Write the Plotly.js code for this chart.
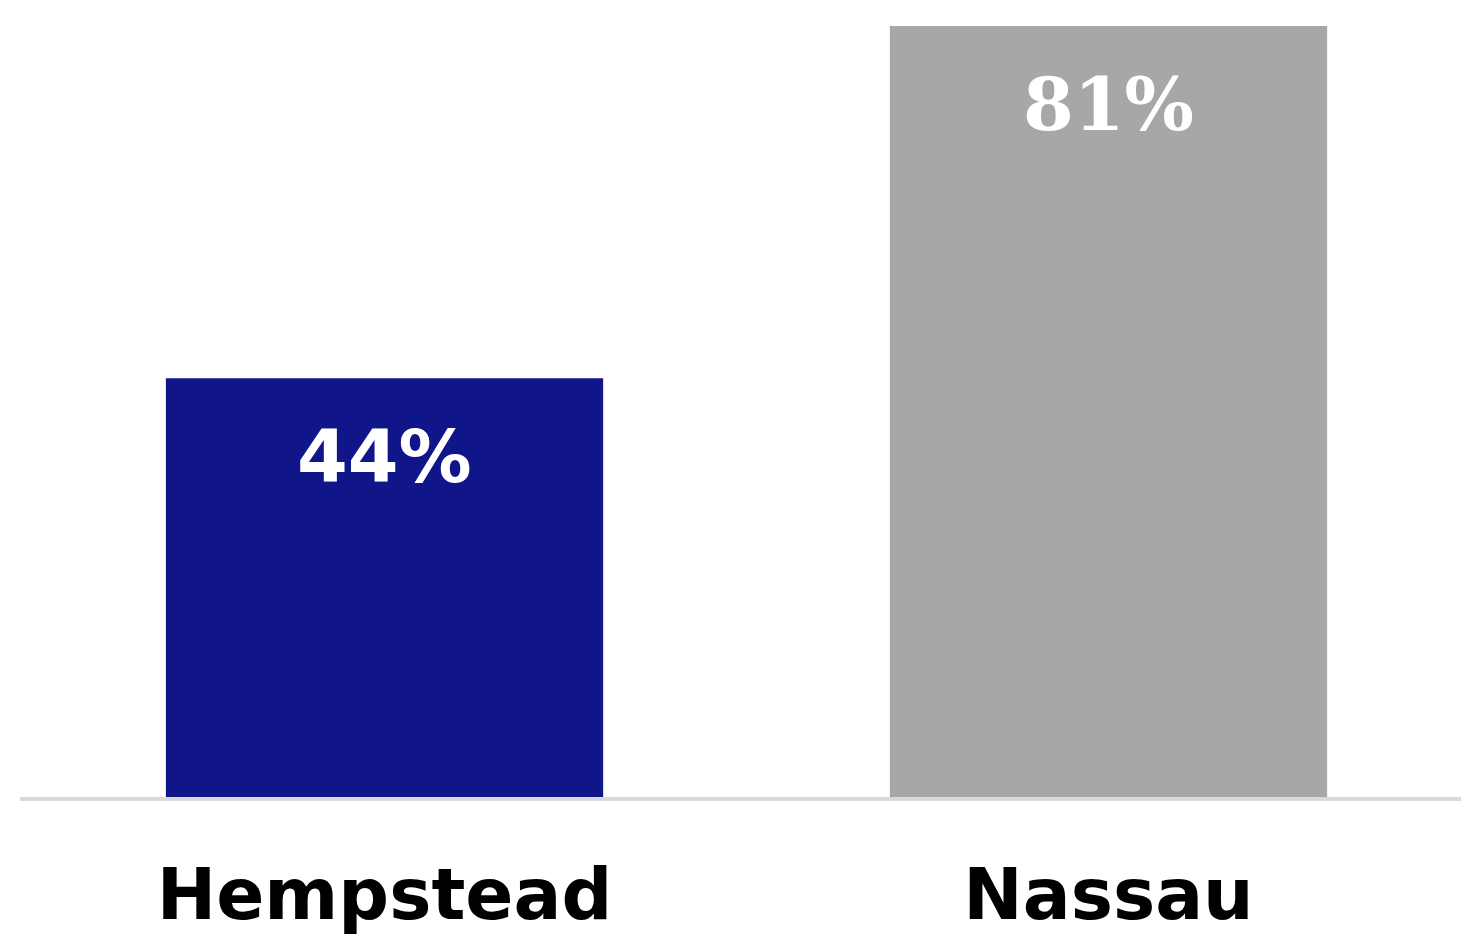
<!DOCTYPE html>
<html>
<head>
<meta charset="utf-8">
<script src="https://cdn.plot.ly/plotly-3.0.1.min.js"></script>
<style>html,body{margin:0;padding:0;background:#fff;}#chart{width:1461px;height:938px;}</style>
</head>
<body>
<div id="chart"></div>
<script>
const categories = ["Hempstead", "Nassau"];
const values = [44, 81];
const valueLabels = ["44%", "81%"];

const barColors = ["#10168A", "#A7A7A7"];
const labelFamilies = ["DejaVu Sans", "DejaVu Serif"];

const trace = {
  type: "bar",
  x: categories,
  y: values,
  width: 0.604,
  marker: {color: barColors, line: {width: 0}},
  hoverinfo: "skip"
};

const annotations = categories.map((c, i) => ({
  x: c, y: values[i], xref: "x", yref: "y",
  text: valueLabels[i],
  showarrow: false,
  yanchor: "middle", xanchor: "center",
  yshift: -78,
  font: {family: labelFamilies[i], size: 73, color: "#ffffff", weight: "bold"}
}));

const layout = {
  width: 1461, height: 938,
  margin: {l: 20, r: 0, t: 26, b: 141},
  paper_bgcolor: "#ffffff", plot_bgcolor: "#ffffff",
  showlegend: false,
  xaxis: {
    type: "category",
    range: [-0.5035, 1.4869],
    showline: true, linecolor: "#d9d9d9", linewidth: 4,
    showgrid: false, zeroline: false, ticks: "",
    tickfont: {family: "DejaVu Sans", size: 71, color: "#000000", weight: "bold"},
    ticklabelstandoff: 33
  },
  yaxis: {
    range: [0, 81],
    visible: false, showgrid: false, zeroline: false
  },
  annotations: annotations
};

Plotly.newPlot("chart", [trace], layout, {displayModeBar: false, staticPlot: true});
</script>
</body>
</html>
